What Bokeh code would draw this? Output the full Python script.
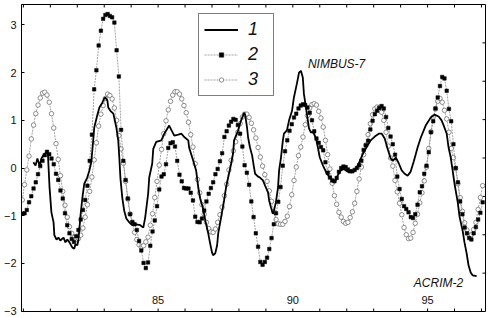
from bokeh.plotting import figure
from bokeh.models import Range1d, LinearAxis, FixedTicker, Legend, LegendItem
from bokeh.core.properties import value
from bokeh.embed import file_html
from bokeh.resources import INLINE

# ---- data ----
# series 1 (solid line, irregular sampling, years)
t1 = [80.37, 80.45, 80.52, 80.60, 80.67, 80.74, 80.86, 80.91, 80.97, 81.04,
      81.12, 81.15, 81.23, 81.30, 81.37, 81.49, 81.56, 81.63, 81.71, 81.82,
      81.89, 81.93, 82.00, 82.04, 82.12, 82.19, 82.26, 82.37, 82.45, 82.52,
      82.60, 82.63, 82.74, 82.82, 82.93, 83.00, 83.04, 83.12, 83.15, 83.23,
      83.34, 83.37, 83.45, 83.52, 83.56, 83.60, 83.67, 83.74, 83.82, 83.93,
      84.04, 84.19, 84.34, 84.45, 84.52, 84.63, 84.67, 84.78, 84.82, 84.93,
      85.12, 85.23, 85.41, 85.49, 85.60, 85.75, 85.86, 85.97, 86.12, 86.15,
      86.30, 86.41, 86.49, 86.56, 86.67, 86.75, 86.86, 86.93, 87.00, 87.04,
      87.12, 87.19, 87.23, 87.34, 87.45, 87.52, 87.60, 87.71, 87.78, 87.82,
      87.97, 88.08, 88.15, 88.19, 88.23, 88.30, 88.34, 88.41, 88.49, 88.56,
      88.60, 88.71, 88.78, 88.89, 88.97, 89.08, 89.12, 89.19, 89.26, 89.30,
      89.37, 89.45, 89.49, 89.56, 89.63, 89.67, 89.78, 89.86, 89.97, 90.04,
      90.15, 90.23, 90.30, 90.37, 90.41, 90.52, 90.60, 90.67, 90.75, 90.78,
      90.86, 90.93, 91.00, 91.12, 91.26, 91.41, 91.56, 91.67, 91.78, 91.89,
      92.04, 92.19, 92.34, 92.45, 92.60, 92.75, 92.89, 93.04, 93.19, 93.30,
      93.41, 93.52, 93.63, 93.71, 93.82, 93.93, 94.04, 94.15, 94.26, 94.37,
      94.49, 94.63, 94.75, 94.93, 95.12, 95.26, 95.41, 95.52, 95.60, 95.71,
      95.78, 95.86, 95.93, 96.00, 96.12, 96.19, 96.30, 96.37, 96.45, 96.52,
      96.60, 96.67, 96.82]
s1 = [0.12, 0.05, 0.20, 0.05, 0.20, 0.27, 0.33, 0.30, -0.40, -0.93,
      -1.14, -1.41, -1.50, -1.46, -1.52, -1.46, -1.56, -1.50, -1.56, -1.67,
      -1.69, -1.60, -1.62, -1.52, -1.00, -0.62, -0.33, -0.20, -0.05, 0.12,
      0.64, 0.85, 1.10, 1.27, 1.37, 1.46, 1.48, 1.41, 1.27, 1.20,
      1.14, 1.06, 0.85, 0.58, 0.22, -0.20, -0.62, -0.89, -1.06, -1.14,
      -1.20, -1.18, -1.20, -1.25, -1.04, -0.54, -0.20, 0.09, 0.40, 0.55,
      0.58, 0.72, 0.89, 0.80, 0.68, 0.70, 0.72, 0.65, 0.58, 0.43,
      0.16, -0.05, -0.41, -0.64, -0.85, -1.10, -1.37, -1.58, -1.77, -1.83,
      -1.79, -1.62, -1.37, -1.03, -0.68, -0.41, -0.20, 0.09, 0.30, 0.58,
      0.79, 1.00, 1.10, 1.16, 1.12, 0.85, 0.64, 0.43, 0.26, 0.01,
      -0.12, -0.18, -0.20, -0.26, -0.37, -0.51, -0.68, -0.83, -0.96, -0.89,
      -0.72, -0.41, -0.05, 0.22, 0.58, 0.72, 0.79, 1.00, 1.20, 1.48,
      1.77, 2.00, 2.04, 1.90, 1.56, 1.14, 0.83, 0.75, 0.75, 0.72,
      0.62, 0.43, 0.22, 0.05, -0.12, -0.22, -0.30, -0.15, -0.05, -0.02,
      -0.08, -0.08, -0.02, 0.10, 0.30, 0.45, 0.58, 0.66, 0.72, 0.72,
      0.62, 0.40, 0.20, 0.15, 0.22, 0.10, -0.05, -0.12, -0.16, -0.08,
      0.14, 0.43, 0.64, 0.89, 1.06, 1.12, 1.08, 1.00, 0.89, 0.72,
      0.43, 0.22, -0.05, -0.33, -0.72, -1.03, -1.31, -1.56, -1.79, -2.04,
      -2.19, -2.25, -2.27]

# series 2 and 3: monthly values starting 1980 (year 79.96)
start_year = 79.96
s2 = [-0.96, -0.95, -0.88, -0.72, -0.59, -0.43, -0.30, -0.13, 0.04, 0.15,
      0.27, 0.34, 0.29, 0.20, 0.08, -0.12, -0.25, -0.47, -0.64, -0.95,
      -1.20, -1.37, -1.49, -1.55, -1.43, -1.30, -1.08, -0.88, -0.67, -0.37,
      0.15, 0.70, 1.65, 2.05, 2.57, 2.88, 3.13, 3.21, 3.23, 3.19,
      3.16, 3.05, 2.47, 1.92, 0.80, 0.15, -0.25, -0.64, -0.97, -1.13,
      -1.18, -1.30, -1.53, -1.73, -1.99, -2.10, -1.98, -1.63, -1.33, -1.10,
      -0.80, -0.45, -0.18, -0.13, 0.08, 0.42, 0.52, 0.54, 0.45, 0.15,
      -0.14, -0.28, -0.42, -0.43, -0.43, -0.52, -0.68, -1.02, -1.13, -1.14,
      -1.06, -0.89, -0.70, -0.54, -0.42, -0.30, -0.13, -0.02, 0.14, 0.31,
      0.65, 0.77, 0.89, 0.97, 1.03, 1.01, 0.90, 0.72, 0.45, 0.06,
      -0.10, -0.35, -0.70, -1.03, -1.37, -1.65, -1.97, -2.03, -1.97, -1.88,
      -1.70, -1.47, -1.18, -0.95, -0.71, -0.40, 0.05, 0.35, 0.58, 0.78,
      0.92, 1.06, 1.14, 1.25, 1.31, 1.34, 1.32, 1.27, 1.16, 1.00,
      0.77, 0.62, 0.53, 0.44, 0.37, 0.12, -0.10, -0.20, -0.26, -0.28,
      -0.21, -0.08, 0.00, 0.03, 0.02, -0.03, -0.07, -0.07, -0.04, 0.00,
      0.06, 0.15, 0.38, 0.48, 0.57, 0.81, 0.99, 1.13, 1.20, 1.26,
      1.30, 1.25, 1.07, 0.84, 0.66, 0.50, 0.28, -0.18, -0.44, -0.65,
      -0.80, -0.86, -0.93, -1.03, -1.05, -0.97, -0.77, -0.51, -0.38, -0.12,
      0.05, 0.33, 0.75, 0.98, 1.25, 1.48, 1.72, 1.91, 1.88, 1.62,
      1.24, 0.98, 0.50, 0.00, -0.30, -0.70, -0.97, -1.25, -1.37, -1.47,
      -1.50, -1.37, -1.24, -1.08, -0.94, -0.72]
s3 = [-0.67, -0.35, -0.04, 0.25, 0.61, 0.90, 1.14, 1.32, 1.47, 1.57,
      1.59, 1.53, 1.38, 1.14, 0.84, 0.51, 0.18, -0.16, -0.49, -0.78,
      -1.03, -1.23, -1.37, -1.46, -1.50, -1.48, -1.41, -1.26, -1.03, -0.77,
      -0.49, -0.19, 0.17, 0.53, 0.88, 1.13, 1.31, 1.46, 1.55, 1.52,
      1.45, 1.26, 1.00, 0.68, 0.40, 0.10, -0.28, -0.65, -0.96, -1.15,
      -1.35, -1.50, -1.61, -1.66, -1.63, -1.55, -1.45, -1.20, -0.96, -0.62,
      -0.28, 0.06, 0.39, 0.72, 0.99, 1.22, 1.40, 1.53, 1.60, 1.60,
      1.55, 1.45, 1.31, 1.16, 0.96, 0.70, 0.44, 0.09, -0.24, -0.52,
      -0.77, -0.97, -1.14, -1.27, -1.34, -1.35, -1.28, -1.14, -0.98, -0.82,
      -0.58, -0.34, -0.04, 0.16, 0.36, 0.55, 0.75, 0.93, 1.07, 1.13,
      1.13, 1.06, 0.94, 0.80, 0.63, 0.43, 0.23, 0.04, -0.14, -0.28,
      -0.48, -0.70, -0.92, -1.08, -1.17, -1.18, -1.18, -1.12, -1.01, -0.81,
      -0.56, -0.26, 0.02, 0.26, 0.44, 0.65, 0.91, 1.10, 1.26, 1.33,
      1.35, 1.32, 1.19, 1.05, 0.86, 0.58, 0.28, -0.02, -0.32, -0.58,
      -0.76, -0.93, -1.03, -1.12, -1.16, -1.14, -1.04, -0.92, -0.74, -0.49,
      -0.23, 0.02, 0.28, 0.48, 0.70, 0.93, 1.12, 1.24, 1.28, 1.27,
      1.17, 1.00, 0.75, 0.46, 0.21, 0.04, -0.26, -0.50, -0.74, -0.98,
      -1.25, -1.40, -1.48, -1.47, -1.35, -1.16, -0.97, -0.73, -0.52, -0.27,
      0.02, 0.41, 0.76, 1.07, 1.24, 1.40, 1.46, 1.38, 1.21, 1.03,
      0.75, 0.41, 0.22, -0.01, -0.33, -0.62, -0.91, -1.15, -1.30, -1.41,
      -1.40, -1.29, -1.14, -0.87, -0.62, -0.37]
t2 = [start_year + i / 12 for i in range(len(s2))]
t3 = [start_year + i / 12 for i in range(len(s3))]

y_ticks = [-3, -2, -1, 0, 1, 2, 3]
year_ticks = list(range(80, 98))
right_ticks = [1, 2, 3, 4, 5, 6, 7]
x_tick_vals = [85, 90, 95]
x_tick_labels = ["85", "90", "95"]
series_labels = ["1", "2", "3"]
notes = ["NIMBUS-7", "ACRIM-2"]
note_x = [90.56, 94.49]
note_y = [2.18, -2.42]

FONT = "Liberation Sans"
X0, X1 = 79.93, 97.15
Y0, Y1 = -3.01, 3.43

p = figure(width=492, height=318, x_range=Range1d(X0, X1),
           y_range=Range1d(Y0, Y1), output_backend="svg",
           toolbar_location=None, x_axis_location=None, y_axis_location=None,
           min_border_left=20, min_border_right=7, min_border_top=4,
           min_border_bottom=7, background_fill_color="white",
           border_fill_color="white")
p.xgrid.grid_line_color = None
p.ygrid.grid_line_color = None
p.outline_line_color = "black"
p.outline_line_width = 1

yl = LinearAxis(ticker=FixedTicker(ticks=y_ticks), major_tick_in=3, major_tick_out=0,
                minor_tick_line_color=None, major_label_standoff=5,
                major_label_text_font=FONT, major_label_text_font_size="11px",
                major_label_text_color="#111111", axis_line_color="black")
p.add_layout(yl, "left")

# inward tick marks on bottom, top and right edges (no labels)
tx = 3.0 / 27.0      # 3 px in x data units
ty = 3.0 / 47.7      # 3 px in y data units
n = len(year_ticks)
p.segment(x0=year_ticks, y0=[Y0] * n, x1=year_ticks, y1=[Y0 + ty] * n,
          line_color="black", line_width=1)
p.segment(x0=year_ticks, y0=[Y1] * n, x1=year_ticks, y1=[Y1 - ty] * n,
          line_color="black", line_width=1)
p.extra_y_ranges = {"r": Range1d(0, 8)}
m = len(right_ticks)
p.segment(x0=[X1] * m, y0=right_ticks, x1=[X1 - tx] * m, y1=right_ticks,
          line_color="black", line_width=1, y_range_name="r")

# series 3
r3l = p.line(t3, s3, line_color="#8c8c8c", line_width=0.8, line_dash="2 1")
r3m = p.scatter(t3, s3, marker="circle", size=4.5, line_color="#606060",
                line_width=0.7, fill_color="white")
# series 2
r2l = p.line(t2, s2, line_color="#8c8c8c", line_width=0.8, line_dash="2 1")
r2m = p.scatter(t2, s2, marker="square", size=3.5, line_color="black",
                line_width=0.5, fill_color="black")
# series 1
r1 = p.line(t1, s1, line_color="black", line_width=1.8)

# x tick labels drawn inside the frame
p.text(x=x_tick_vals, y=[-2.76] * len(x_tick_vals), text=x_tick_labels,
       text_font=value(FONT), text_font_size="11px", text_color="#111111",
       text_align="center", text_baseline="middle")

# annotations
p.text(x=note_x, y=note_y, text=notes, text_font=value(FONT),
       text_font_size="12px", text_font_style="italic", text_color="#111111",
       text_align="left", text_baseline="middle")

legend = Legend(items=[LegendItem(label=series_labels[0], renderers=[r1]),
                       LegendItem(label=series_labels[1], renderers=[r2l, r2m]),
                       LegendItem(label=series_labels[2], renderers=[r3l, r3m])],
                location=(177, 215), orientation="vertical",
                label_text_font=FONT, label_text_font_size="18px",
                label_text_font_style="italic", label_text_color="#111111",
                glyph_width=34, glyph_height=11, label_height=20,
                label_standoff=10, spacing=4, padding=5, margin=0,
                border_line_color="black", border_line_width=1,
                background_fill_color="white", background_fill_alpha=1.0)
p.add_layout(legend)

html = file_html(p, INLINE, title="chart")
html = html.replace("<head>", "<head>\n<style>html,body{margin:0;padding:0;}</style>", 1)
open("out.html", "w").write(html)
